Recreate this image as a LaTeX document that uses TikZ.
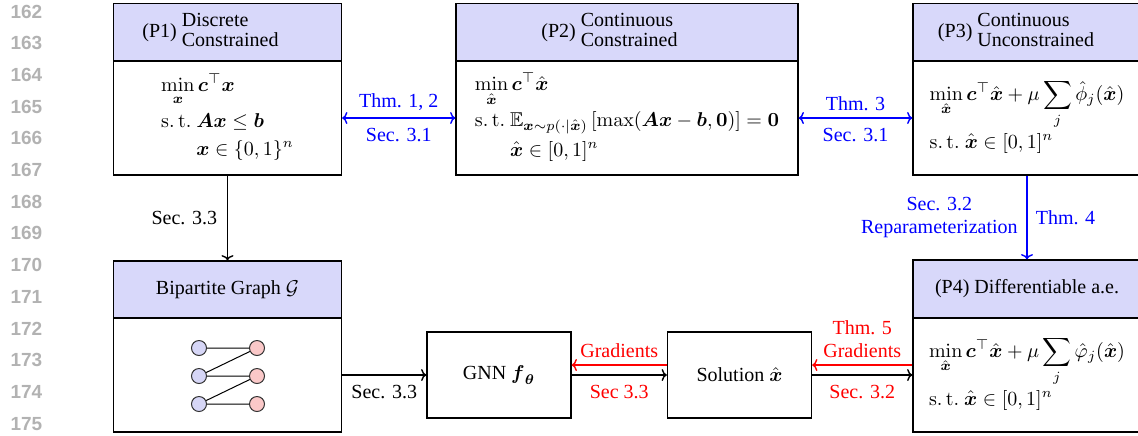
\documentclass[tikz,border=0pt]{standalone}
\usepackage{amsmath,amssymb}
\usepackage[no-math]{fontspec}
\setmainfont{Liberation Serif}
\newfontfamily\lnfont{Liberation Sans}
\usetikzlibrary{arrows.meta}
\definecolor{hdrblue}{RGB}{216,216,250}
\definecolor{nodeblue}{RGB}{214,214,246}
\definecolor{nodered}{RGB}{250,200,200}
\definecolor{lngray}{RGB}{178,178,178}
\newcommand\mybx{\boldsymbol{x}}
\newcommand\myhx{\hat{\boldsymbol{x}}}
\newcommand\myc{\boldsymbol{c}}
\begin{document}
\begin{tikzpicture}[x=0.5pt,y=-0.5pt,line width=0.7pt,
  >={To[length=2.6pt,width=6pt]},
  every node/.style={font=\fontsize{10}{11.5}\selectfont},
  hdr/.style={draw,fill=hdrblue,minimum width=114pt,minimum height=28.75pt,inner sep=0pt},
  bodyb/.style={draw,fill=white,minimum width=114pt,minimum height=57pt,inner sep=0pt},
  wide/.style={minimum width=171pt},
  smallbox/.style={draw,fill=white,minimum width=72pt,minimum height=43pt,inner sep=0pt},
  lnum/.style={anchor=east,text=lngray,font=\lnfont\bfseries\fontsize{9.5}{9.5}\selectfont,inner sep=0pt},
  gnode/.style={circle,draw=black!80,line width=0.5pt,minimum size=7.5pt,inner sep=0pt},
  conn/.style={->},
  bconn/.style={<->,blue},
  bconnr/.style={->,blue},
  rconn/.style={->,red},
  lbl/.style={text=blue},
  rlbl/.style={text=red}
]
\clip (0,0) rectangle (1138,435);
% line numbers
\foreach \k in {0,...,13}{
  \pgfmathtruncatemacro\n{162+\k}
  \node[lnum] (ln\n) at (43,{11.5+31.7*\k}) {\n};
}
% P1
\node[hdr] (p1h) at (227.5,32.25) {};
\node (p1t) at (210.5,32.25) {(P1) {\renewcommand\arraystretch{0.9}\begin{tabular}{@{}l@{}}Discrete\\Constrained\end{tabular}}};
\node[bodyb] (p1b) at (227.5,118) {$\renewcommand\arraystretch{1.2}\begin{array}{@{}l@{}}
  \displaystyle\min_{\mybx}\myc^{\top}\mybx\\[4pt]
  \mathrm{s.\,t.}\ \boldsymbol{A}\mybx\le\boldsymbol{b}\\
  \hphantom{\mathrm{s.\,t.}\ }\mybx\in\{0,1\}^n
\end{array}$};
% P2
\node[hdr,wide] (p2h) at (627,32.25) {};
\node (p2t) at (609.5,32.25) {(P2) {\renewcommand\arraystretch{0.9}\begin{tabular}{@{}l@{}}Continuous\\Constrained\end{tabular}}};
\node[bodyb,wide] (p2b) at (627,118) {$\renewcommand\arraystretch{1.2}\begin{array}{@{}l@{}}
  \displaystyle\min_{\myhx}\myc^{\top}\myhx\\[4pt]
  \mathrm{s.\,t.}\ \mathbb{E}_{\mybx\sim p(\cdot|\myhx)}\left[\max(\boldsymbol{A}\mybx-\boldsymbol{b},\boldsymbol{0})\right]=\boldsymbol{0}\\[1pt]
  \hphantom{\mathrm{s.\,t.}\ }\myhx\in[0,1]^n
\end{array}$};
% P3
\node[hdr] (p3h) at (1027,32.25) {};
\node (p3t) at (1016,32.25) {(P3) {\renewcommand\arraystretch{0.9}\begin{tabular}{@{}l@{}}Continuous\\Unconstrained\end{tabular}}};
\node[bodyb] (p3b) at (1027,118) {$\renewcommand\arraystretch{1.2}\begin{array}{@{}l@{}}
  \displaystyle\min_{\myhx}\myc^{\top}\myhx+\mu\sum_{j}\hat{\phi}_j(\myhx)\\[4pt]
  \mathrm{s.\,t.}\ \myhx\in[0,1]^n
\end{array}$};
% Bipartite
\node[hdr,minimum height=28.5pt] (bh) at (227.5,289.5) {Bipartite Graph $\mathcal{G}$};
\node[bodyb] (bb) at (227.5,375) {};
\node[gnode,fill=nodeblue] (l1) at (199,348) {};
\node[gnode,fill=nodeblue] (l2) at (199,376) {};
\node[gnode,fill=nodeblue] (l3) at (199,404) {};
\node[gnode,fill=nodered] (r1) at (257,348) {};
\node[gnode,fill=nodered] (r2) at (257,376) {};
\node[gnode,fill=nodered] (r3) at (257,404) {};
\draw[line width=0.5pt] (l1)--(r1) (l2)--(r1) (l2)--(r2) (l3)--(r2) (l3)--(r3);
% P4
\node[hdr,minimum height=29pt] (p4h) at (1027,289) {(P4) Differentiable a.e.};
\node[bodyb] (p4b) at (1027,375) {$\renewcommand\arraystretch{1.2}\begin{array}{@{}l@{}}
  \displaystyle\min_{\myhx}\myc^{\top}\myhx+\mu\sum_{j}\hat{\varphi}_j(\myhx)\\[3pt]
  \mathrm{s.\,t.}\ \myhx\in[0,1]^n
\end{array}$};
% GNN and solution
\node[smallbox] (gnn) at (499,375) {GNN $\boldsymbol{f}_{\boldsymbol{\theta}}$};
\node[smallbox] (sol) at (739.5,375) {Solution $\myhx$};
% connectors
\draw[bconn] (p1b.east) -- node[lbl,above] (t12) {Thm. 1, 2} node[lbl,below=1.5pt] (s31a) {Sec. 3.1} (p2b.west);
\draw[bconn] (p2b.east) -- node[lbl,above] (t3) {Thm. 3} node[lbl,below=1.5pt] (s31b) {Sec. 3.1} (p3b.west);
\draw[conn] (p1b.south) -- node[left=1.5pt] (s33a) {Sec. 3.3} (bh.north);
\draw[bconnr] (p3b.south) -- node[lbl,left=1pt,align=center] (s32a) {Sec. 3.2\\Reparameterization} node[lbl,right=0.7pt] (t4) {Thm. 4} (p4h.north);
\draw[conn] (bb.east) -- node[below=1.5pt] (s33b) {Sec. 3.3} (gnn.west);
\draw[conn] (gnn.east) -- node[rlbl,below=1.5pt] (s33c) {Sec 3.3} (sol.west);
\draw[rconn] ([yshift=5pt]sol.west) -- node[rlbl,above] (gr1) {Gradients} ([yshift=5pt]gnn.east);
\draw[conn] (sol.east) -- node[rlbl,below=1.5pt] (s32b) {Sec. 3.2} (p4b.west);
\draw[rconn] ([yshift=5pt]p4b.west) -- node[rlbl,above,align=center] (gr2) {Thm. 5\\Gradients} ([yshift=5pt]sol.east);
\end{tikzpicture}
\end{document}
